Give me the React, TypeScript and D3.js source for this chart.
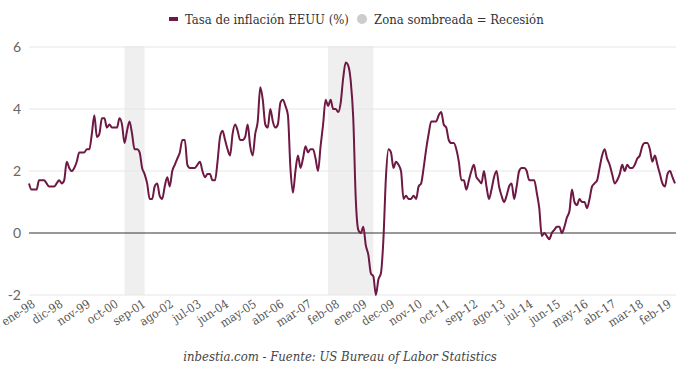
import React from 'react';
import * as d3 from 'd3';

// US CPI year-over-year, monthly, ene-1998 .. jun-2019
const inflation1998 = [1.6, 1.4, 1.4, 1.4, 1.7, 1.7, 1.7, 1.6, 1.5, 1.5, 1.5, 1.6];
const inflation1999 = [1.7, 1.6, 1.7, 2.3, 2.1, 2.0, 2.1, 2.3, 2.6, 2.6, 2.6, 2.7];
const inflation2000 = [2.7, 3.2, 3.8, 3.1, 3.2, 3.7, 3.7, 3.4, 3.5, 3.4, 3.4, 3.4];
const inflation2001 = [3.7, 3.5, 2.9, 3.3, 3.6, 3.2, 2.7, 2.7, 2.6, 2.1, 1.9, 1.6];
const inflation2002 = [1.1, 1.1, 1.5, 1.6, 1.2, 1.1, 1.5, 1.8, 1.5, 2.0, 2.2, 2.4];
const inflation2003 = [2.6, 3.0, 3.0, 2.2, 2.1, 2.1, 2.1, 2.2, 2.3, 2.0, 1.8, 1.9];
const inflation2004 = [1.9, 1.7, 1.7, 2.3, 3.1, 3.3, 3.0, 2.7, 2.5, 3.2, 3.5, 3.3];
const inflation2005 = [3.0, 3.0, 3.1, 3.5, 2.8, 2.5, 3.2, 3.6, 4.7, 4.3, 3.5, 3.4];
const inflation2006 = [4.0, 3.6, 3.4, 3.5, 4.2, 4.3, 4.1, 3.8, 2.1, 1.3, 2.0, 2.5];
const inflation2007 = [2.1, 2.4, 2.8, 2.6, 2.7, 2.7, 2.4, 2.0, 2.8, 3.5, 4.3, 4.1];
const inflation2008 = [4.3, 4.0, 4.0, 3.9, 4.2, 5.0, 5.5, 5.4, 4.9, 3.7, 1.1, 0.1];
const inflation2009 = [0.0, 0.2, -0.4, -0.7, -1.3, -1.4, -2.0, -1.5, -1.3, -0.2, 1.8, 2.7];
const inflation2010 = [2.6, 2.1, 2.3, 2.2, 2.0, 1.1, 1.2, 1.1, 1.1, 1.2, 1.1, 1.5];
const inflation2011 = [1.6, 2.1, 2.7, 3.2, 3.6, 3.6, 3.6, 3.8, 3.9, 3.5, 3.4, 3.0];
const inflation2012 = [2.9, 2.9, 2.7, 2.3, 1.7, 1.7, 1.4, 1.7, 2.0, 2.2, 1.8, 1.7];
const inflation2013 = [1.6, 2.0, 1.5, 1.1, 1.4, 1.8, 2.0, 1.5, 1.2, 1.0, 1.2, 1.5];
const inflation2014 = [1.6, 1.1, 1.5, 2.0, 2.1, 2.1, 2.0, 1.7, 1.7, 1.7, 1.3, 0.8];
const inflation2015 = [-0.1, 0.0, -0.1, -0.2, 0.0, 0.1, 0.2, 0.2, 0.0, 0.2, 0.5, 0.7];
const inflation2016 = [1.4, 1.0, 0.9, 1.1, 1.0, 1.0, 0.8, 1.1, 1.5, 1.6, 1.7, 2.1];
const inflation2017 = [2.5, 2.7, 2.4, 2.2, 1.9, 1.6, 1.7, 1.9, 2.2, 2.0, 2.2, 2.1];
const inflation2018 = [2.1, 2.2, 2.4, 2.5, 2.8, 2.9, 2.9, 2.7, 2.3, 2.5, 2.2, 1.9];
const inflation2019 = [1.6, 1.5, 1.9, 2.0, 1.8, 1.6];

const inflation = [
  ...inflation1998, ...inflation1999, ...inflation2000, ...inflation2001,
  ...inflation2002, ...inflation2003, ...inflation2004, ...inflation2005,
  ...inflation2006, ...inflation2007, ...inflation2008, ...inflation2009,
  ...inflation2010, ...inflation2011, ...inflation2012, ...inflation2013,
  ...inflation2014, ...inflation2015, ...inflation2016, ...inflation2017,
  ...inflation2018, ...inflation2019,
];

// tick labels every 11 months, starting at index 0
const xTickLabels = [
  'ene-98', 'dic-98', 'nov-99', 'oct-00', 'sep-01', 'ago-02', 'jul-03', 'jun-04',
  'may-05', 'abr-06', 'mar-07', 'feb-08', 'ene-09', 'dec-09', 'nov-10', 'oct-11',
  'sep-12', 'ago-13', 'jul-14', 'jun-15', 'may-16', 'abr-17', 'mar-18', 'feb-19',
];
const yTicks = [-2, 0, 2, 4, 6];

// recessions as month indexes [start, end]
const recessions: [number, number][] = [
  [38, 46],
  [119, 137],
];

const W = 680;
const H = 368;
const LINE = '#6e1844';
const SERIF = "'DejaVu Serif Condensed', 'DejaVu Serif'";

export default function App() {
  const x = d3.scaleLinear().domain([0, inflation.length - 1]).range([29, 675]);
  const y = d3.scaleLinear().domain([-2, 6]).range([295, 47]);

  const line = d3
    .line<number>()
    .x((_, i) => x(i))
    .y((d) => y(d))
    .curve(d3.curveMonotoneX);

  return (
    <svg
      width={W}
      height={H}
      style={{position: 'absolute', left: 0, top: 0, background: '#fff'}}
    >
      {/* legend */}
      <g style={{fontFamily: SERIF}} fontSize={13} fill="#333">
        <rect x={169} y={17} width={9} height={4} fill={LINE} />
        <text x={185} y={24}>Tasa de inflación EEUU (%)</text>
        <circle cx={362} cy={19} r={5} fill="#ccc" />
        <text x={374} y={24}>Zona sombreada = Recesión</text>
      </g>

      {/* recession bands */}
      {recessions.map(([a, b]) => (
        <rect
          key={a}
          x={x(a)}
          y={y(6) - 1}
          width={x(b) - x(a)}
          height={y(-2) - y(6) + 1}
          fill="#efefef"
        />
      ))}

      {/* grid */}
      {yTicks.map((t) => (
        <g key={t}>
          <line
            x1={29}
            x2={676}
            y1={y(t)}
            y2={y(t)}
            stroke={t === 0 ? '#333' : '#e6e6e6'}
            strokeWidth={1}
          />
          <text
            x={21}
            y={y(t) + 5}
            textAnchor="end"
            style={{fontFamily: 'Lato, sans-serif'}}
            fontSize={14}
            fill="#666"
          >
            {t}
          </text>
        </g>
      ))}

      <path d={line(inflation) || ''} fill="none" stroke={LINE} strokeWidth={2} />

      {/* x labels */}
      <g style={{fontFamily: SERIF}} fontSize={12} fill="#555">
        {xTickLabels.map((lab, i) => (
          <text
            key={lab}
            textAnchor="end"
            transform={`translate(${x(i * 11) + 7},${306}) rotate(-33)`}
          >
            {lab}
          </text>
        ))}
      </g>

      <text
        x={340}
        y={361}
        textAnchor="middle"
        style={{fontFamily: SERIF, fontStyle: 'italic'}}
        fontSize={13}
        fill="#444"
      >
        inbestia.com - Fuente: US Bureau of Labor Statistics
      </text>
    </svg>
  );
}
